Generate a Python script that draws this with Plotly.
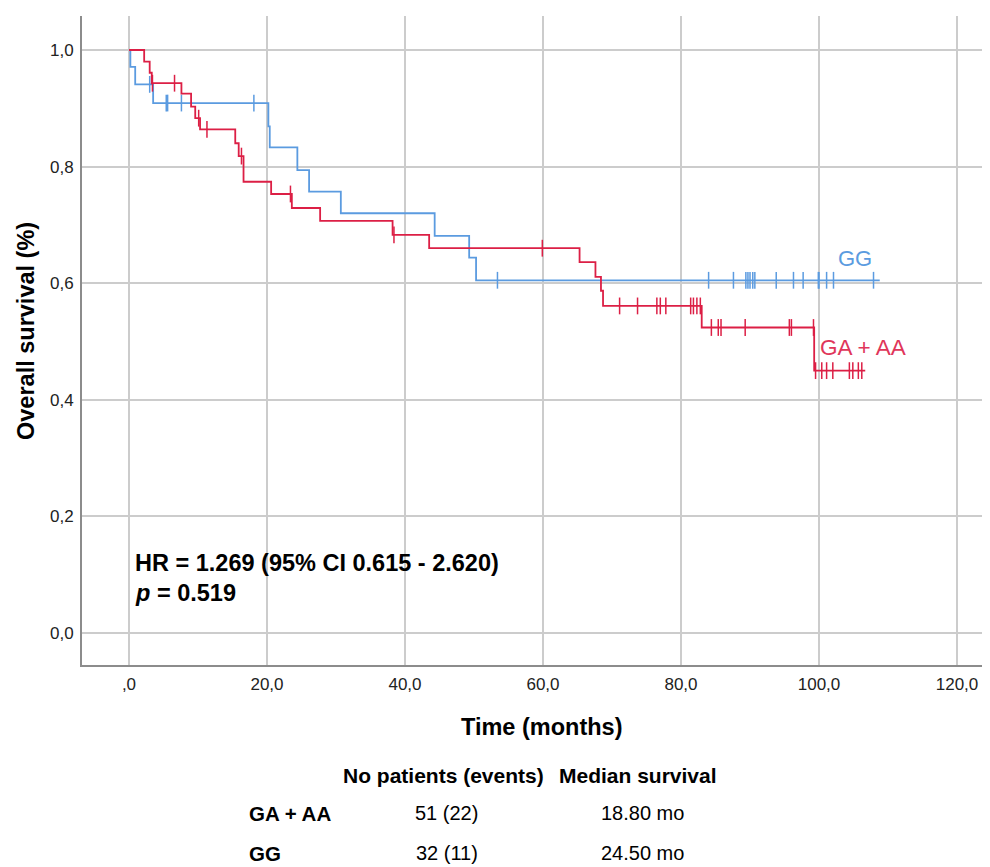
import plotly.graph_objects as go

# ---- data ----
red_name = "GA + AA"
red_t = [0, 2.2, 3.0, 3.3, 7.6, 9.0, 9.6, 10.3, 15.4, 15.9, 16.6, 20.6, 23.6, 27.7,
         38.2, 43.5, 65.3, 67.6, 68.4, 68.7, 83.0, 99.3, 106.7]
red_s = [1.0, 0.980, 0.961, 0.943, 0.925, 0.903, 0.883, 0.864, 0.840, 0.818, 0.774,
         0.753, 0.729, 0.707, 0.683, 0.660, 0.636, 0.611, 0.587, 0.561, 0.524, 0.450, 0.450]
red_cens_t = [3.4, 6.6, 10.1, 11.3, 16.3, 23.4, 38.4, 59.9,
              71.1, 73.7, 76.5, 77.0, 77.8, 81.4, 81.8, 82.3, 82.8,
              84.4, 85.4, 85.8, 89.3, 95.7, 96.0, 99.2,
              99.5, 100.4, 101.1, 102.0, 104.4, 104.9, 105.7, 106.2]
red_cens_s = [0.943, 0.943, 0.883, 0.864, 0.818, 0.753, 0.683, 0.660,
              0.561, 0.561, 0.561, 0.561, 0.561, 0.561, 0.561, 0.561, 0.561,
              0.524, 0.524, 0.524, 0.524, 0.524, 0.524, 0.524,
              0.450, 0.450, 0.450, 0.450, 0.450, 0.450, 0.450, 0.450]

blue_name = "GG"
blue_t = [0, 0.2, 0.9, 3.5, 20.2, 20.4, 24.4, 26.1, 30.7, 44.3, 49.3, 50.3, 108.8]
blue_s = [1.0, 0.971, 0.941, 0.909, 0.869, 0.833, 0.794, 0.757, 0.720, 0.681, 0.644,
          0.605, 0.605]
blue_cens_t = [3.0, 5.4, 5.6, 7.6, 18.1, 53.4, 84.0, 87.6, 89.4, 89.7, 90.0, 90.4,
               90.7, 93.8, 96.3, 97.7, 99.9, 100.0, 101.1, 102.1, 107.9]
blue_cens_s = [0.941, 0.909, 0.909, 0.909, 0.909] + [0.605] * 16

x_tickvals = [0, 20, 40, 60, 80, 100, 120]
x_ticktext = [",0", "20,0", "40,0", "60,0", "80,0", "100,0", "120,0"]
y_tickvals = [0, 0.2, 0.4, 0.6, 0.8, 1.0]
y_ticktext = ["0,0", "0,2", "0,4", "0,6", "0,8", "1,0"]

table_header = ["No patients (events)", "Median survival"]
table_rows = ["GA + AA", "GG"]
table_patients = ["51 (22)", "32 (11)"]
table_median = ["18.80 mo", "24.50 mo"]

RED = "#dc1f45"
BLUE = "#5b9be0"
FONT = "Liberation Sans, Arial, sans-serif"

fig = go.Figure()

fig.add_trace(go.Scatter(x=blue_t, y=blue_s, mode="lines", line=dict(color=BLUE, width=1.8, shape="hv"),
                         showlegend=False, hoverinfo="skip"))
fig.add_trace(go.Scatter(x=blue_cens_t, y=blue_cens_s, mode="markers",
                         marker=dict(symbol="line-ns", size=12, line=dict(color=BLUE, width=1.5)),
                         showlegend=False, hoverinfo="skip"))
fig.add_trace(go.Scatter(x=red_t, y=red_s, mode="lines", line=dict(color=RED, width=1.8, shape="hv"),
                         showlegend=False, hoverinfo="skip"))
fig.add_trace(go.Scatter(x=red_cens_t, y=red_cens_s, mode="markers",
                         marker=dict(symbol="line-ns", size=12, line=dict(color=RED, width=1.5)),
                         showlegend=False, hoverinfo="skip"))

ann = []
ann.append(dict(x=105.2, y=0.643, xref="x", yref="y", text=blue_name, showarrow=False,
                xanchor="center", yanchor="middle",
                font=dict(family=FONT, size=22, color=BLUE)))
ann.append(dict(x=106.4, y=0.489, xref="x", yref="y", text=red_name, showarrow=False,
                xanchor="center", yanchor="middle",
                font=dict(family=FONT, size=22.5, color="#e0365a")))
ann.append(dict(x=0.6, y=0.12, xref="x", yref="y", xanchor="left", yanchor="middle",
                text="<b>HR = 1.269 (95% CI 0.615 - 2.620)</b>", showarrow=False,
                font=dict(family=FONT, size=23.5, color="#000")))
ann.append(dict(x=0.6, y=0.069, xref="x", yref="y", xanchor="left", yanchor="middle",
                text="<b><i>p</i> = 0.519</b>", showarrow=False,
                font=dict(family=FONT, size=23.5, color="#000")))

# helpers: reference pixel -> paper coords (plot area 908x649 at (82,16) on screen)
def px(X):
    return (X - 82) / 908

def py(P):
    return (665 - P) / 649

# axis titles
ann.append(dict(x=px(541), y=py(727), xref="paper", yref="paper", text="<b>Time (months)</b>",
                xanchor="center", yanchor="middle",
                showarrow=False, font=dict(family=FONT, size=23.5, color="#000")))
ann.append(dict(x=px(25.5), y=py(331.5), xref="paper", yref="paper", text="<b>Overall survival (%)</b>",
                xanchor="center", yanchor="middle",
                textangle=-90, showarrow=False, font=dict(family=FONT, size=23.5, color="#000")))

# table
hdr_x = [px(443.3), px(637.5)]
for h, hx in zip(table_header, hdr_x):
    ann.append(dict(x=hx, y=py(775), xref="paper", yref="paper", text="<b>%s</b>" % h,
                    xanchor="center", yanchor="middle",
                    showarrow=False, font=dict(family=FONT, size=21, color="#000")))
row_y = [py(813), py(853)]
for lab, pat, med, ry in zip(table_rows, table_patients, table_median, row_y):
    ann.append(dict(x=px(246.7), y=ry, xref="paper", yref="paper", xanchor="left", yanchor="middle",
                    text="<b>%s</b>" % lab, showarrow=False,
                    font=dict(family=FONT, size=20.5, color="#000")))
    ann.append(dict(x=px(446.7), y=ry, xref="paper", yref="paper", text=pat,
                    xanchor="center", yanchor="middle",
                    showarrow=False, font=dict(family=FONT, size=20, color="#000")))
    ann.append(dict(x=px(642.5), y=ry, xref="paper", yref="paper", text=med,
                    xanchor="center", yanchor="middle",
                    showarrow=False, font=dict(family=FONT, size=20, color="#000")))

# the page body has an 8px margin, so the figure is drawn 8px smaller and shifted
fig.update_layout(
    width=982, height=859,
    margin=dict(l=74, r=0, t=8, b=202),
    paper_bgcolor="white", plot_bgcolor="white",
    annotations=ann,
    xaxis=dict(range=[-6.81, 124.78], tickvals=x_tickvals, ticktext=x_ticktext,
               showgrid=True, gridcolor="#cccccc", gridwidth=1.5, zeroline=False,
               showline=True, linecolor="#8c8c8c", linewidth=2, ticks="",
               ticklabelstandoff=3,
               tickfont=dict(family=FONT, size=17, color="#222")),
    yaxis=dict(range=[-0.0549, 1.0583], tickvals=y_tickvals, ticktext=y_ticktext,
               showgrid=True, gridcolor="#cccccc", gridwidth=1.5, zeroline=False,
               showline=True, linecolor="#8c8c8c", linewidth=2, ticks="",
               ticklabelstandoff=3,
               tickfont=dict(family=FONT, size=17, color="#222")),
)

fig.write_html("out.html")
